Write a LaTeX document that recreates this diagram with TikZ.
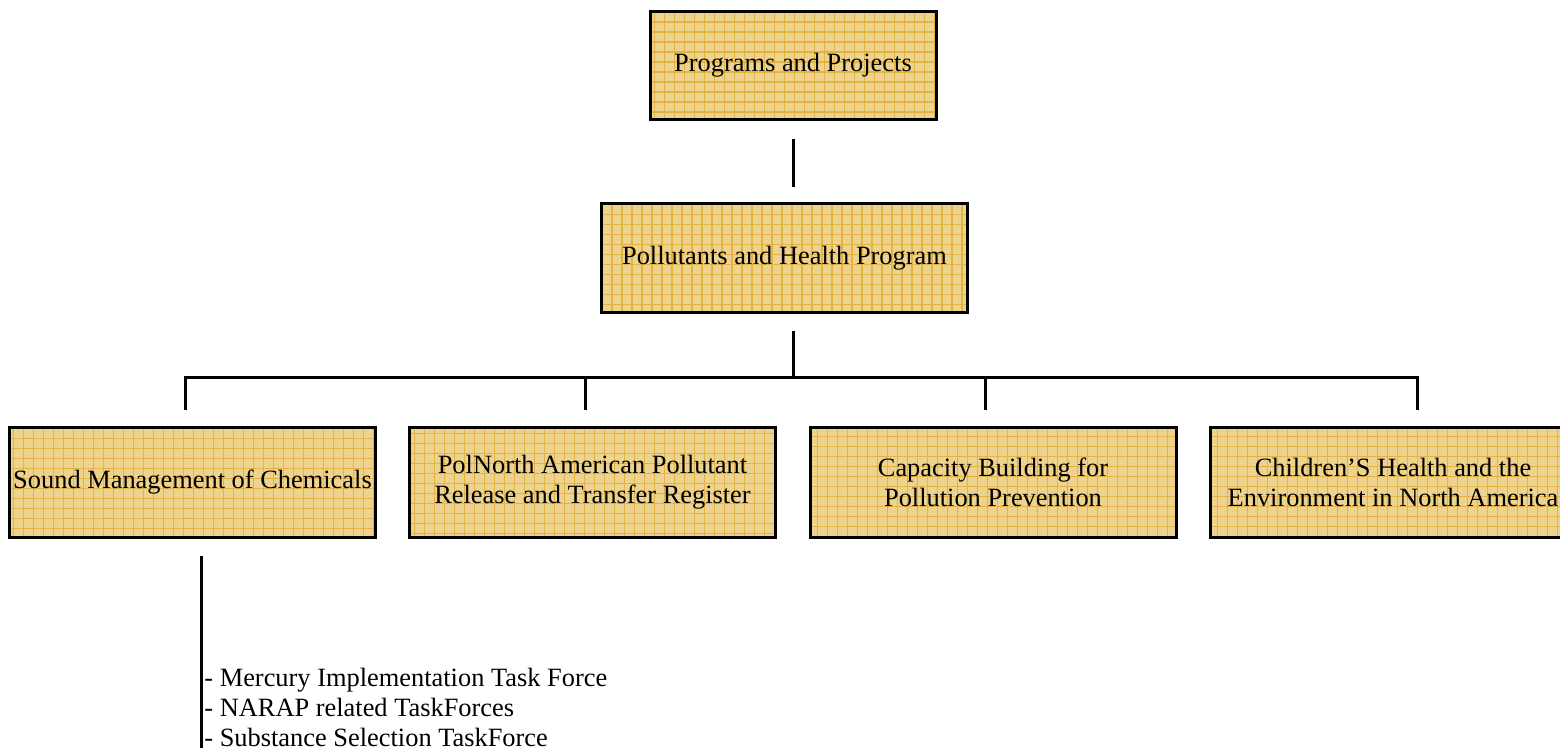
\documentclass[tikz,border=0pt]{standalone}
\usepackage{fontspec}
\setmainfont{Liberation Serif}
\definecolor{boxtan}{RGB}{238,211,142}
\definecolor{boxgrid}{RGB}{221,168,38}

\tikzset{
  orgbox/.style={draw=black, line width=1.5pt, fill=boxtan,
    minimum width=183pt, minimum height=54.5pt, inner sep=0pt, align=center,
    font=\fontsize{13.2}{15}\selectfont,
    path picture={\draw[boxgrid, line width=0.6pt, opacity=0.7]
      (path picture bounding box.south west) grid[step=5pt] (path picture bounding box.north east);}},
  link/.style={line width=1.5pt}
}

\begin{document}
\begin{tikzpicture}[x=0.5pt, y=-0.5pt]
    \useasboundingbox (0,0) rectangle (1560,754);
    \clip (0,0) rectangle (1560,754);

    \node[orgbox, minimum width=143pt, minimum height=54pt] (prog) at (793,66) {\strut Programs and Projects};
    \node[orgbox] (poll) at (784.5,258.5) {\strut Pollutants and Health Program};

    \node[orgbox] (sound) at (192.5,482.5) {\strut Sound Management of Chemicals};
    \node[orgbox] (prtr) at (592.5,482.5) {PolNorth American Pollutant\\Release and Transfer Register};
    \node[orgbox] (capac) at (993,482.5) {Capacity Building for\\Pollution Prevention};
    \node[orgbox] (child) at (1393,482.5) {Children’S Health and the\\Environment in North America};

    \node[anchor=north west, inner sep=0pt, align=left, font=\fontsize{13.2}{15}\selectfont] (tasks) at (204,668)
      {- Mercury Implementation Task Force\\- NARAP related TaskForces\\- Substance Selection TaskForce};

    % connectors
    \coordinate (top1) at (793,139);
    \coordinate (top2) at (793,187);
    \coordinate (mid1) at (793,331);
    \coordinate (barL) at (185,378);
    \coordinate (barR) at (1417,378);
    \coordinate (d1) at (185,410);
    \coordinate (d2) at (585,410);
    \coordinate (d3) at (985,410);
    \coordinate (d4) at (1417,410);
    \coordinate (low1) at (201,556);
    \coordinate (low2) at (201,748);

    \draw[link] (top1) -- (top2);
    \draw[link] (mid1) -- (mid1 |- barL);
    \draw[link] (d1) -- (barL) -- (barR) -- (d4);
    \draw[link] (d2) -- (d2 |- barL);
    \draw[link] (d3) -- (d3 |- barL);
    \draw[link] (low1) -- (low2);
  \end{tikzpicture}
\end{document}
